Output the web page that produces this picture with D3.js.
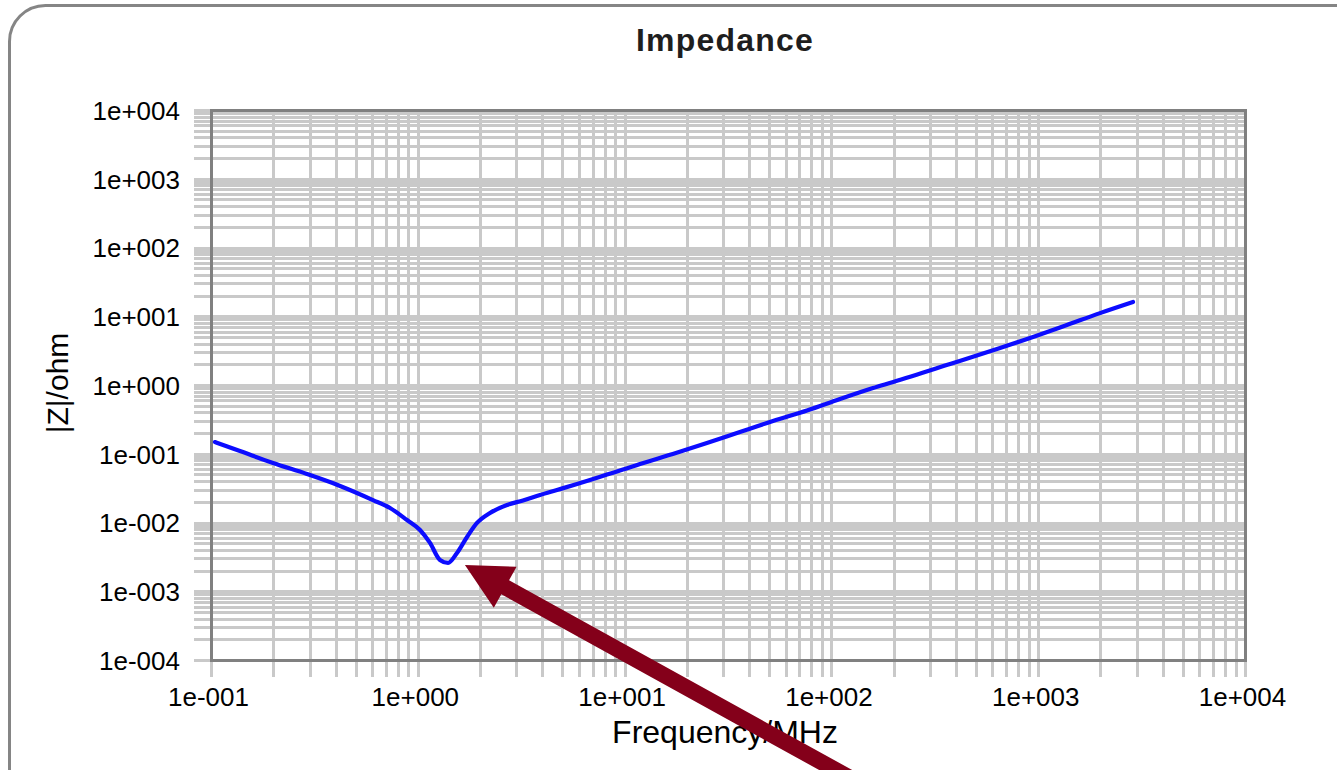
<!DOCTYPE html>
<html>
<head>
<meta charset="utf-8">
<script src="https://cdn.jsdelivr.net/npm/d3@7"></script>
<style>
  html, body { margin: 0; padding: 0; background: #ffffff; }
  svg { display: block; }
</style>
</head>
<body>
<svg id="chart" width="1337" height="770"></svg>
<script>
// ---------------- data ----------------
const freqMHz = [0.1045, 0.138, 0.1995, 0.291, 0.421, 0.607, 0.734, 0.887, 1.025, 1.146,
  1.28, 1.40, 1.547, 1.73, 1.933, 2.234, 2.70, 3.226, 3.90, 4.71, 5.89, 6.80, 8.22, 9.82,
  11.87, 17.1, 25.0, 36.1, 52.2, 76.2, 110, 159, 199, 375, 654, 944, 1377, 1990, 2873];
const impedanceOhm = [0.148, 0.1096, 0.0733, 0.0507, 0.034, 0.0212, 0.01625, 0.01087, 0.00778, 0.00504,
  0.00285, 0.00258, 0.0036, 0.00615, 0.00984, 0.01375, 0.018, 0.0209, 0.0251, 0.0297, 0.0363, 0.0415, 0.0498, 0.0588,
  0.071, 0.099, 0.143, 0.207, 0.299, 0.425, 0.625, 0.904, 1.107, 2.02, 3.45, 4.99, 7.46, 11.1, 16.1];

const xTickValues = [0.1, 1, 10, 100, 1000, 10000];
const xTickLabels = ["1e-001", "1e+000", "1e+001", "1e+002", "1e+003", "1e+004"];
const yTickValues = [1e-4, 1e-3, 1e-2, 1e-1, 1, 10, 100, 1000, 10000];
const yTickLabels = ["1e-004", "1e-003", "1e-002", "1e-001", "1e+000", "1e+001", "1e+002", "1e+003", "1e+004"];

const titleText = "Impedance";
const xTitleText = "Frequency/MHz";
const yTitleText = "|Z|/ohm";

// annotation arrow tip (data coordinates)
const arrowTip = { f: 1.69, z: 0.00241 };

// ---------------- layout ----------------
const svg = d3.select("#chart");
const plot = { left: 211, right: 1245, top: 110, bottom: 660 };
const font = "'Liberation Sans', Arial, sans-serif";
const gridColor = "#c9c9c9";

const x = d3.scaleLog().domain([0.1, 10000]).range([plot.left, plot.right]);
const y = d3.scaleLog().domain([1e-4, 1e4]).range([plot.bottom, plot.top]);
const crisp = v => Math.round(v) + 0.5;

// outer rounded frame (extends beyond the picture on right/bottom)
svg.append("rect")
  .attr("x", 9.5).attr("y", 5.5)
  .attr("width", 1500).attr("height", 1000)
  .attr("rx", 36).attr("ry", 36)
  .attr("fill", "#ffffff")
  .attr("stroke", "#858585")
  .attr("stroke-width", 3);

// minor + major grid values
function logGridValues(lo, hi) {
  const vals = [];
  for (let e = Math.log10(lo); e < Math.log10(hi); e++) {
    for (let k = 1; k <= 9; k++) vals.push(k * Math.pow(10, e));
  }
  vals.push(hi);
  return vals;
}
const xGrid = logGridValues(0.1, 10000);
const yGrid = logGridValues(1e-4, 1e4);

const grid = svg.append("g");
grid.selectAll("line.v").data(xGrid).join("line")
  .attr("class", "v")
  .attr("x1", d => crisp(x(d))).attr("x2", d => crisp(x(d)))
  .attr("y1", plot.top).attr("y2", plot.bottom + 17)
  .attr("stroke", gridColor).attr("stroke-width", 3);
grid.selectAll("line.h").data(yGrid).join("line")
  .attr("class", "h")
  .attr("x1", plot.left - 17).attr("x2", plot.right)
  .attr("y1", d => crisp(y(d))).attr("y2", d => crisp(y(d)))
  .attr("stroke", gridColor).attr("stroke-width", 3);

// plot frame
svg.append("rect")
  .attr("x", plot.left + 0.5).attr("y", plot.top + 0.5)
  .attr("width", plot.right - plot.left).attr("height", plot.bottom - plot.top)
  .attr("fill", "none").attr("stroke", "#808080").attr("stroke-width", 3);

// axes (labels only)
const xAxis = d3.axisBottom(x).tickValues(xTickValues)
  .tickFormat((d, i) => xTickLabels[i]).tickSize(0).tickPadding(0);
const gx = svg.append("g").attr("transform", `translate(-3,${plot.bottom})`).call(xAxis);
gx.select(".domain").remove();
gx.selectAll("text")
  .attr("y", 46).attr("dy", 0)
  .attr("font-family", font).attr("font-size", 26).attr("fill", "#000");

const yAxis = d3.axisLeft(y).tickValues(yTickValues)
  .tickFormat((d, i) => yTickLabels[i]).tickSize(0).tickPadding(0);
const gy = svg.append("g").attr("transform", `translate(180,0)`).call(yAxis);
gy.select(".domain").remove();
gy.selectAll("text")
  .attr("x", 0).attr("dy", "0.36em")
  .attr("font-family", font).attr("font-size", 26).attr("fill", "#000");

// curve
const pts = freqMHz.map((f, i) => [x(f), y(impedanceOhm[i])]);
svg.append("path")
  .attr("d", d3.line().curve(d3.curveMonotoneX)(pts))
  .attr("fill", "none")
  .attr("stroke", "#0c0cff")
  .attr("stroke-width", 4.2)
  .attr("stroke-linejoin", "round")
  .attr("stroke-linecap", "round");

// titles
svg.append("text")
  .attr("x", 725).attr("y", 51)
  .attr("text-anchor", "middle")
  .attr("font-family", font).attr("font-weight", "bold").attr("font-size", 32)
  .attr("letter-spacing", 1.2)
  .attr("fill", "#1e1e1e")
  .text(titleText);

svg.append("text")
  .attr("x", 725).attr("y", 743)
  .attr("text-anchor", "middle")
  .attr("font-family", font).attr("font-size", 32).attr("fill", "#000")
  .text(xTitleText);

svg.append("text")
  .attr("transform", "translate(68,383) rotate(-90)")
  .attr("text-anchor", "middle")
  .attr("font-family", font).attr("font-size", 30).attr("fill", "#000")
  .text(yTitleText);

// annotation arrow
(function drawArrow() {
  const tx = x(arrowTip.f), ty = y(arrowTip.z);
  const ang = Math.atan2(0.553, 1);
  const ux = Math.cos(ang), uy = Math.sin(ang);
  const px = -uy, py = ux;
  const headLen = 46, headHalf = 23.5, shaftHalf = 8, shaftLen = 520;
  const bx = tx + headLen * ux, by = ty + headLen * uy;
  const ex = bx + shaftLen * ux, ey = by + shaftLen * uy;
  const p = [
    [tx, ty],
    [bx - headHalf * px, by - headHalf * py],
    [bx - shaftHalf * px, by - shaftHalf * py],
    [ex - shaftHalf * px, ey - shaftHalf * py],
    [ex + shaftHalf * px, ey + shaftHalf * py],
    [bx + shaftHalf * px, by + shaftHalf * py],
    [bx + headHalf * px, by + headHalf * py]
  ];
  svg.append("path")
    .attr("d", "M" + p.map(q => q.join(",")).join("L") + "Z")
    .attr("fill", "#84001a");
})();
</script>
</body>
</html>
